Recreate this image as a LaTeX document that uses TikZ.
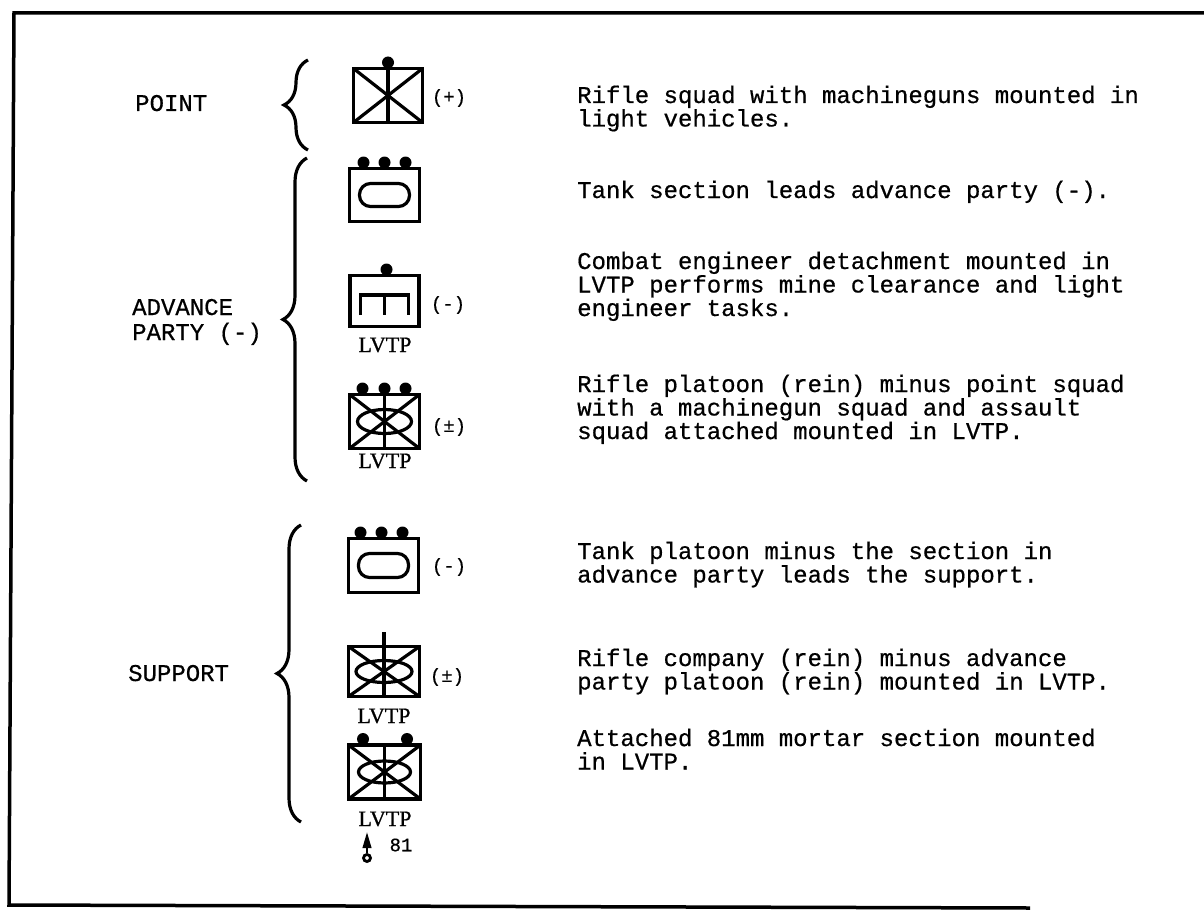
\documentclass[tikz,border=0pt]{standalone}
\usepackage{fontspec}
\setmainfont{Liberation Serif}
\newfontfamily\twfont{Liberation Mono}[WordSpace={1,0,0},FakeBold=0.6]
\newfontfamily\lvfont{Liberation Serif}[FakeBold=0.8]
\usetikzlibrary{decorations.pathreplacing,arrows.meta}
\begin{document}
\begin{tikzpicture}[x=1pt,y=-1pt,
  symbox/.style={draw, line width=3.4pt, inner sep=0pt, outer sep=0pt, minimum width=70pt, minimum height=54pt},
  inner/.style={line width=3.2pt},
  dot/.style={fill=black},
  fixsp/.style={execute at begin node={\fontdimen2\font=14.4pt\spaceskip=14.4pt plus 0pt minus 0pt\xspaceskip=14.4pt plus 0pt minus 0pt\relax}},
  desc/.style={font={\twfont\fontsize{24pt}{23.5pt}\selectfont}, text width=620pt, inner sep=0pt, anchor=base west, fixsp},
  grp/.style={font={\twfont\fontsize{24pt}{25pt}\selectfont}, text width=200pt, inner sep=0pt, anchor=base west, fixsp},
  strength/.style={font={\twfont\fontsize{19pt}{19pt}\selectfont}, inner sep=0pt},
  vlabel/.style={font={\lvfont\fontsize{22pt}{22pt}\selectfont}, inner sep=0pt},
  bracesty/.style={decorate, decoration={brace, amplitude=24pt, aspect=0.5}, line width=3.2pt}]
\useasboundingbox (0,0) rectangle (1204,915);
% frame
\draw[line width=3.5pt] (1204,13) -- (14,13) -- (9,905) -- (1030,908);

% group labels
\node[grp] (lpoint) at (135,111) {POINT};
\node[grp] (ladv) at (132,315) {ADVANCE\\PARTY (-)};
\node[grp] (lsup) at (128,681) {SUPPORT};

% braces
\draw[bracesty] (308,150) -- (308,60);
\draw[bracesty] (307,481) -- (307,158);
\draw[bracesty] (301,822) -- (301,525);

% POINT: rifle squad, light vehicles
\node[symbox, minimum width=69pt, minimum height=54pt] (s1) at (388,95.5) {};
\draw[inner] (s1.north west) -- (s1.south east);
\draw[inner] (s1.south west) -- (s1.north east);
\draw[inner] (s1.north) -- (s1.south);
\fill[dot] ([yshift=6pt]s1.north) circle (6pt);
\node[strength] (m1) at (449,98) {(+)};

% tank section
\node[symbox, minimum width=70pt, minimum height=53pt] (s2) at (384.5,195) {};
\draw[inner, rounded corners=11pt] ([xshift=-25pt,yshift=11.5pt]s2.center) rectangle ([xshift=25pt,yshift=-11.5pt]s2.center);
\fill[dot] ([xshift=-21pt,yshift=6pt]s2.north) circle (6pt);
\fill[dot] ([xshift=0pt,yshift=6pt]s2.north) circle (6pt);
\fill[dot] ([xshift=21pt,yshift=6pt]s2.north) circle (6pt);

% engineer
\node[symbox, minimum width=69pt, minimum height=51pt] (s3) at (384.5,301) {};
\draw[inner, line width=3.6pt] ([xshift=-24pt,yshift=-14pt]s3.center) -- ([xshift=-24pt,yshift=6pt]s3.center) -- ([xshift=24pt,yshift=6pt]s3.center) -- ([xshift=24pt,yshift=-14pt]s3.center);
\draw[inner, line width=3.6pt] ([yshift=6pt]s3.center) -- ([yshift=-14pt]s3.center);
\fill[dot] ([xshift=2pt,yshift=6pt]s3.north) circle (6pt);
\node[strength] (m3) at (448,305) {(-)};
\node[vlabel] (v3) at (385,345) {LVTP};

% rifle platoon
\node[symbox, minimum width=70pt, minimum height=54pt] (s4) at (384.5,421.5) {};
\draw[inner] (s4.north west) -- (s4.south east);
\draw[inner] (s4.south west) -- (s4.north east);
\draw[inner] (s4.north) -- (s4.south);
\draw[inner] (s4.center) ellipse [x radius=27pt, y radius=12pt];
\fill[dot] ([xshift=-22pt,yshift=6pt]s4.north) circle (6pt);
\fill[dot] ([xshift=0pt,yshift=6pt]s4.north) circle (6pt);
\fill[dot] ([xshift=21pt,yshift=6pt]s4.north) circle (6pt);
\node[strength] (m4) at (449,427) {(±)};
\node[vlabel] (v4) at (385,461) {LVTP};

% tank platoon (-)
\node[symbox, minimum width=70pt, minimum height=54pt] (s5) at (383.5,565.5) {};
\draw[inner, rounded corners=11pt] ([xshift=-25pt,yshift=12pt]s5.center) rectangle ([xshift=25pt,yshift=-12pt]s5.center);
\fill[dot] ([xshift=-23pt,yshift=6pt]s5.north) circle (6pt);
\fill[dot] ([xshift=-2pt,yshift=6pt]s5.north) circle (6pt);
\fill[dot] ([xshift=19pt,yshift=6pt]s5.north) circle (6pt);
\node[strength] (m5) at (449,567) {(-)};

% rifle company (rein)
\node[symbox, minimum width=71pt, minimum height=50pt] (s6) at (384,671.5) {};
\coordinate (s6top) at (384,632);
\draw[inner] (s6.north west) -- (s6.south east);
\draw[inner] (s6.south west) -- (s6.north east);
\draw[inner] (s6top) -- (s6.south);
\draw[inner] (s6.center) ellipse [x radius=28pt, y radius=11pt];
\node[strength] (m6) at (447,677) {(±)};
\node[vlabel] (v6) at (384,716) {LVTP};

% 81mm mortar section
\node[symbox, minimum width=72pt, minimum height=54pt] (s7) at (384.5,772) {};
\draw[inner] (s7.north west) -- (s7.south east);
\draw[inner] (s7.south west) -- (s7.north east);
\draw[inner] (s7.north) -- (s7.south);
\draw[inner] (s7.center) ellipse [x radius=26pt, y radius=11pt];
\fill[dot] ([xshift=-21.5pt,yshift=6pt]s7.north) circle (6pt);
\fill[dot] ([xshift=22.5pt,yshift=6pt]s7.north) circle (6pt);
\node[vlabel] (v7) at (385,819) {LVTP};
\node[circle, draw, line width=2.8pt, minimum size=7pt, inner sep=0pt] (mb) at (367,858) {};
\coordinate (mt) at (367,832);
\draw[line width=2.4pt, -{Triangle[length=16pt,width=8.5pt]}] (mb.north) -- (mt);
\node[strength] (n81) at (401,845) {81};

% descriptions
\node[desc] (d1) at (577,103) {Rifle squad with machineguns mounted in\\light vehicles.};
\node[desc] (d2) at (577,198) {Tank section leads advance party (-).};
\node[desc] (d3) at (577,269) {Combat engineer detachment mounted in\\LVTP performs mine clearance and light\\engineer tasks.};
\node[desc] (d4) at (577,392) {Rifle platoon (rein) minus point squad\\with a machinegun squad and assault\\squad attached mounted in LVTP.};
\node[desc] (d5) at (577,559) {Tank platoon minus the section in\\advance party leads the support.};
\node[desc] (d6) at (577,666) {Rifle company (rein) minus advance\\party platoon (rein) mounted in LVTP.};
\node[desc] (d7) at (577,746) {Attached 81mm mortar section mounted\\in LVTP.};
\end{tikzpicture}
\end{document}
